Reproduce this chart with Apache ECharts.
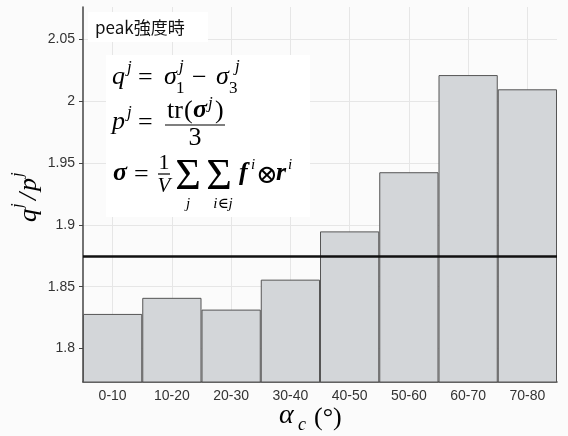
<!doctype html>
<html>
	<head>
		<meta charset="utf-8">
		<title>peak強度時</title>
		<style>
			html, body { margin: 0; padding: 0; background: #fbfbfb; }
			#main { width: 568px; height: 436px; }
		</style>
	</head>
	<body>
		<div id="main"></div>
		<script src="https://cdn.jsdelivr.net/npm/echarts@6/dist/echarts.min.js"></script>
		<script type="text/javascript">
			// 角度区間ごとの q/p
			var categories = ['0-10', '10-20', '20-30', '30-40', '40-50', '50-60', '60-70', '70-80'];
			var qpValues = [1.828, 1.841, 1.8315, 1.8557, 1.8947, 1.9425, 2.021, 2.0095];
			var refLine = 1.8746;
			var yMin = 1.773;
			var yMax = 2.076;

			var serif = '"Liberation Serif", "DejaVu Serif", serif';

			// 数式の文字を一つずつ置く (baseline基準)
			function tx(x, base, str, size, st, align) {
				return {
					type: 'text',
					z: 101,
					x: x,
					y: base - size * 0.32,
					style: {
						text: str,
						font: (st || '') + ' ' + size + 'px ' + serif,
						fill: '#000',
						textAlign: align || 'left',
						textVerticalAlign: 'middle'
					}
				};
			}
			function bar(x1, x2, y) {
				return {
					type: 'line', z: 101,
					shape: { x1: x1, y1: y, x2: x2, y2: y },
					style: { stroke: '#000', lineWidth: 1.2 }
				};
			}

			var formula = [
				// q^j = σ1^j − σ3^j
				tx(112, 85, 'q', 26, 'italic'),
				tx(127, 73, 'j', 17, 'italic'),
				tx(138, 86, '=', 26),
				tx(164, 85, 'σ', 26, 'italic'),
				tx(176, 94, '1', 17),
				tx(179, 72, 'j', 17, 'italic'),
				tx(192, 86, '−', 26),
				tx(216, 85, 'σ', 26, 'italic'),
				tx(229, 94, '3', 17),
				tx(235, 72, 'j', 17, 'italic'),
				// p^j = tr(σ^j)/3
				tx(112, 130, 'p', 26, 'italic'),
				tx(127, 118, 'j', 17, 'italic'),
				tx(138, 131, '=', 26),
				tx(167, 119, 'tr', 26),
				tx(184, 119, '(', 26),
				tx(193, 119, 'σ', 26, 'italic bold'),
				tx(208, 109, 'j', 17, 'italic'),
				tx(215, 119, ')', 26),
				bar(165, 225, 125),
				tx(195, 146, '3', 26, '', 'center'),
				// σ = 1/V ΣΣ f⊗r
				tx(113, 182, 'σ', 26, 'italic bold'),
				tx(134, 183, '=', 26),
				tx(164, 170, '1', 22, '', 'center'),
				bar(158, 170, 174),
				tx(164, 193, 'V', 21, 'italic', 'center'),
				tx(188, 192, 'Σ', 44, '', 'center'),
				tx(188, 209, 'j', 15, 'italic', 'center'),
				tx(219, 192, 'Σ', 44, '', 'center'),
				tx(223, 209, 'i∈j', 15, 'italic', 'center'),
				tx(239, 182, 'f', 26, 'italic bold'),
				tx(251, 170, 'i', 15, 'italic'),
				tx(256, 184, '⊗', 26),
				tx(276, 182, 'r', 26, 'italic bold'),
				tx(288, 170, 'i', 15, 'italic')
			];

			var chart = echarts.init(document.getElementById('main'));
			chart.setOption({
				backgroundColor: '#fbfbfb',
				animation: false,
				grid: {
					left: 83,
					right: 11,
					top: 7,
					bottom: 54
				},
				xAxis: {
					type: 'category',
					data: categories,
					axisLine: { lineStyle: { color: '#444', width: 1.5 } },
					axisTick: { show: false },
					axisLabel: {
						color: '#333',
						fontSize: 14,
						fontFamily: '"Liberation Sans", Arial, sans-serif',
						margin: 7
					},
					splitLine: {
						show: true,
						alignWithLabel: true,
						lineStyle: { color: '#e6e6e6' }
					}
				},
				yAxis: {
					type: 'value',
					min: yMin,
					max: yMax,
					splitNumber: 6,
					axisLine: { show: true, lineStyle: { color: '#444', width: 1.5 } },
					axisTick: { show: true, length: 4, lineStyle: { color: '#444' } },
					axisLabel: {
						color: '#333',
						fontSize: 14,
						fontFamily: '"Liberation Sans", Arial, sans-serif',
						margin: 8,
						showMinLabel: false,
						showMaxLabel: false
					},
					splitLine: {
						show: true,
						showMinLine: false,
						showMaxLine: false,
						lineStyle: { color: '#e6e6e6' }
					}
				},
				series: [{
					type: 'bar',
					data: qpValues,
					barCategoryGap: 0,
					itemStyle: {
						color: '#d3d6d9',
						borderColor: '#555',
						borderWidth: 1
					},
					markLine: {
						silent: true,
						precision: 4,
						symbol: 'none',
						label: { show: false },
						lineStyle: { color: '#111', width: 2.5, type: 'solid' },
						data: [{ yAxis: refLine }]
					}
				}],
				graphic: [
					// peak強度時 ラベル
					{
						type: 'rect', z: 100,
						shape: { x: 88, y: 12, width: 120, height: 30 },
						style: { fill: '#fff' }
					},
					{
						type: 'text', z: 101,
						x: 95, y: 28,
						style: {
							text: 'peak強度時',
							font: '17px "Noto Sans CJK JP", "Noto Sans", sans-serif',
							fill: '#111',
							textVerticalAlign: 'middle'
						}
					},
					// 数式ボックス
					{
						type: 'rect', z: 100,
						shape: { x: 106, y: 55, width: 204, height: 162 },
						style: { fill: '#fff' }
					}
				].concat(formula).concat([
					// y軸名 q^j/p^j
					{
						type: 'group', z: 101,
						x: 29, y: 222,
						rotation: Math.PI / 2,
						children: [
							{ type: 'text', x: 0, y: 0, style: { text: 'q', font: 'italic 26px ' + serif, fill: '#000', textVerticalAlign: 'middle' } },
							{ type: 'text', x: 14, y: -11, style: { text: 'j', font: 'italic 17px ' + serif, fill: '#000', textVerticalAlign: 'middle' } },
							{ type: 'text', x: 22, y: 0, style: { text: '/', font: 'italic 26px ' + serif, fill: '#000', textVerticalAlign: 'middle' } },
							{ type: 'text', x: 31, y: 0, style: { text: 'p', font: 'italic 26px ' + serif, fill: '#000', textVerticalAlign: 'middle' } },
							{ type: 'text', x: 45, y: -11, style: { text: 'j', font: 'italic 17px ' + serif, fill: '#000', textVerticalAlign: 'middle' } }
						]
					},
					// x軸名 α_c (°)
					tx(279, 425, 'α', 28, 'italic'),
					tx(298, 431, 'c', 18, 'italic'),
					tx(314, 426, '(°)', 26)
				])
			});
		</script>
	</body>
</html>
